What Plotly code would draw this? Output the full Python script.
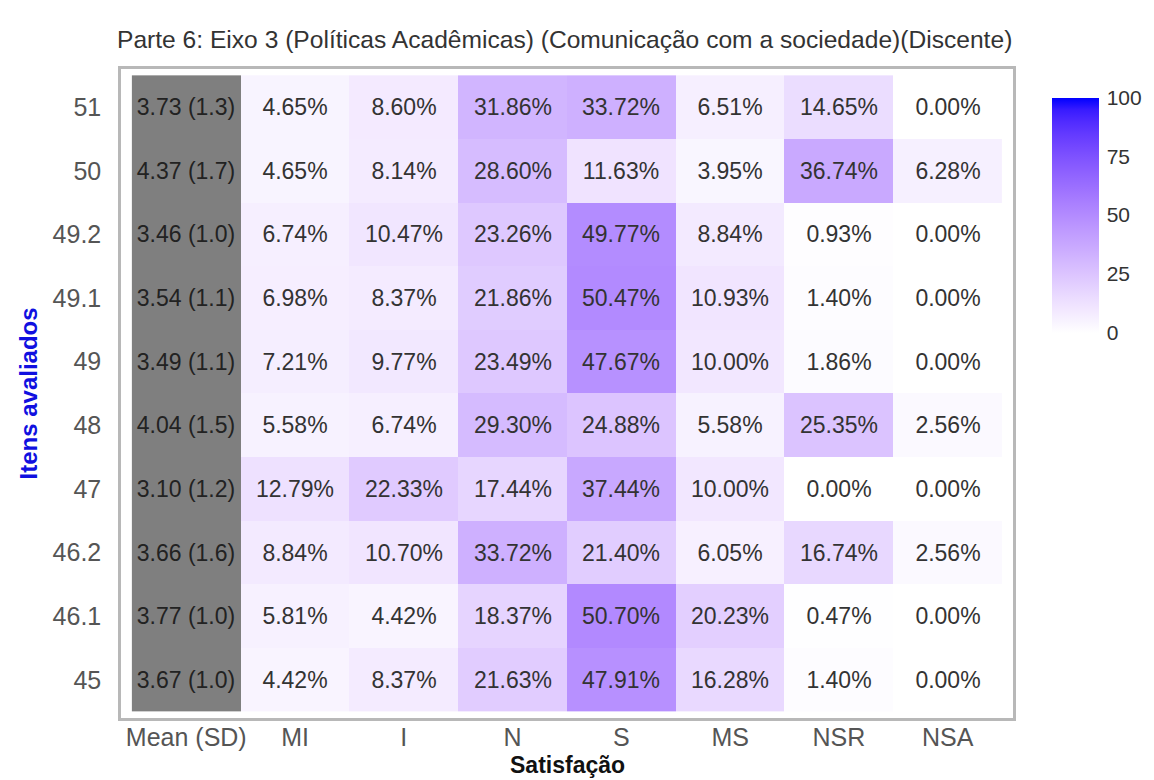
import numpy as np
import plotly.graph_objects as go

# ---------------- data ----------------
items = ["51", "50", "49.2", "49.1", "49", "48", "47", "46.2", "46.1", "45"]  # top -> bottom
categories = ["MI", "I", "N", "S", "MS", "NSR", "NSA"]
mean_label = "Mean (SD)"
means = [3.73, 4.37, 3.46, 3.54, 3.49, 4.04, 3.10, 3.66, 3.77, 3.67]
sds = [1.3, 1.7, 1.0, 1.1, 1.1, 1.5, 1.2, 1.6, 1.0, 1.0]
mi = [4.65, 4.65, 6.74, 6.98, 7.21, 5.58, 12.79, 8.84, 5.81, 4.42]
i_ = [8.60, 8.14, 10.47, 8.37, 9.77, 6.74, 22.33, 10.70, 4.42, 8.37]
n_ = [31.86, 28.60, 23.26, 21.86, 23.49, 29.30, 17.44, 33.72, 18.37, 21.63]
s_ = [33.72, 11.63, 49.77, 50.47, 47.67, 24.88, 37.44, 21.40, 50.70, 47.91]
ms = [6.51, 3.95, 8.84, 10.93, 10.00, 5.58, 10.00, 6.05, 20.23, 16.28]
nsr = [14.65, 36.74, 0.93, 1.40, 1.86, 25.35, 0.00, 16.74, 0.47, 1.40]
nsa = [0.00, 6.28, 0.00, 0.00, 0.00, 2.56, 0.00, 2.56, 0.00, 0.00]
colorbar_ticks = [0, 25, 50, 75, 100]

title = "Parte 6: Eixo 3 (Políticas Acadêmicas) (Comunicação com a sociedade)(Discente)"
x_title = "Satisfação"
y_title = "Itens avaliados"

# ---------------- colours (Lab interpolation white -> blue, like ggplot) ----------------
def srgb_to_lin(c):
    c = np.asarray(c, float) / 255
    return np.where(c <= 0.04045, c / 12.92, ((c + 0.055) / 1.055) ** 2.4)

def lin_to_srgb(c):
    c = np.clip(c, 0, 1)
    return np.where(c <= 0.0031308, 12.92 * c, 1.055 * c ** (1 / 2.4) - 0.055) * 255

M = np.array([[0.4124, 0.3576, 0.1805], [0.2126, 0.7152, 0.0722], [0.0193, 0.1192, 0.9505]])
WP = np.array([0.95047, 1.0, 1.08883])

def rgb_to_lab(rgb):
    xyz = M @ srgb_to_lin(rgb) / WP
    f = np.where(xyz > 0.008856, np.cbrt(xyz), 7.787 * xyz + 16 / 116)
    return np.array([116 * f[1] - 16, 500 * (f[0] - f[1]), 200 * (f[1] - f[2])])

def lab_to_rgb(lab):
    L, a, b = lab
    fy = (L + 16) / 116
    fx = fy + a / 500
    fz = fy - b / 200
    f = np.array([fx, fy, fz])
    xyz = np.where(f ** 3 > 0.008856, f ** 3, (f - 16 / 116) / 7.787) * WP
    rgb = lin_to_srgb(np.linalg.inv(M) @ xyz)
    return "rgb(%d,%d,%d)" % tuple(np.round(rgb).astype(int))

lab_lo = rgb_to_lab([255, 255, 255])
lab_hi = rgb_to_lab([0, 0, 255])
colorscale = [[t, lab_to_rgb(lab_lo + (lab_hi - lab_lo) * t)] for t in np.linspace(0, 1, 21)]

# ---------------- matrices (8 columns: mean + 7 categories) ----------------
x_all = [mean_label] + categories
pct = np.array([mi, i_, n_, s_, ms, nsr, nsa]).T  # rows = items
z_pct = [[None] + list(row) for row in pct]
t_pct = [[""] + ["%.2f%%" % v for v in row] for row in pct]
z_mean = [[1] + [None] * len(categories) for _ in items]
t_mean = [["%.2f (%.1f)" % (m, s)] + [""] * len(categories) for m, s in zip(means, sds)]

FONT = "Liberation Sans, Arial, sans-serif"
PW, PH = 892, 649  # plot area size in px

fig = go.Figure()
fig.add_trace(go.Heatmap(
    x=x_all, y=items, z=z_mean,
    colorscale=[[0, "#7F7F7F"], [1, "#7F7F7F"]], showscale=False,
    text=t_mean, texttemplate="%{text}",
    textfont=dict(family=FONT, size=23, color="#222222"),
    hoverinfo="skip",
))
fig.add_trace(go.Heatmap(
    x=x_all, y=items, z=z_pct, zmin=0, zmax=100,
    colorscale=colorscale,
    text=t_pct, texttemplate="%{text}",
    textfont=dict(family=FONT, size=23, color="#333333"),
    colorbar=dict(
        x=(1044 - 113) / PW, xanchor="left", xpad=0,
        y=(710 - 207) / PH, yanchor="middle", ypad=0,
        thickness=47, thicknessmode="pixels",
        len=235, lenmode="pixels",
        outlinewidth=0,
        tickvals=colorbar_ticks,
        ticks="outside", ticklen=4, tickcolor="rgba(0,0,0,0)",
        tickfont=dict(family=FONT, size=21, color="#333333"),
    ),
))

fig.update_layout(
    width=1154, height=780,
    margin=dict(l=113, r=149, t=61, b=70),
    paper_bgcolor="white", plot_bgcolor="white",
    font=dict(family=FONT),
    annotations=[
        dict(text=title, xref="paper", yref="paper", x=-6 / PW, xanchor="left",
             y=1 + 30 / PH, yanchor="middle", showarrow=False,
             font=dict(size=24.6, color="#333333")),
        dict(text="<b>%s</b>" % x_title, xref="paper", yref="paper", x=0.5, xanchor="center",
             y=-47 / PH, yanchor="middle", showarrow=False,
             font=dict(size=23, color="#111111")),
        dict(text="<b>%s</b>" % y_title, xref="paper", yref="paper", x=-93 / PW, xanchor="center",
             y=0.5, yanchor="middle", showarrow=False, textangle=-90,
             font=dict(size=24, color="#1010E0")),
    ],
)
fig.update_xaxes(
    type="category", categoryorder="array", categoryarray=x_all,
    range=[-0.6, 7.6], showgrid=False, zeroline=False,
    showline=True, mirror=True, linecolor="#B8B8B8", linewidth=2.5,
    ticks="", ticklabelstandoff=-5,
    tickfont=dict(size=25, color="#555555"),
)
fig.update_yaxes(
    type="category", categoryorder="array", categoryarray=items[::-1],
    range=[-0.6, 9.6], showgrid=False, zeroline=False,
    showline=True, mirror=True, linecolor="#B8B8B8", linewidth=2.5,
    ticks="", ticklabelstandoff=12,
    tickfont=dict(size=25, color="#555555"),
)

fig.write_html("out.html")
